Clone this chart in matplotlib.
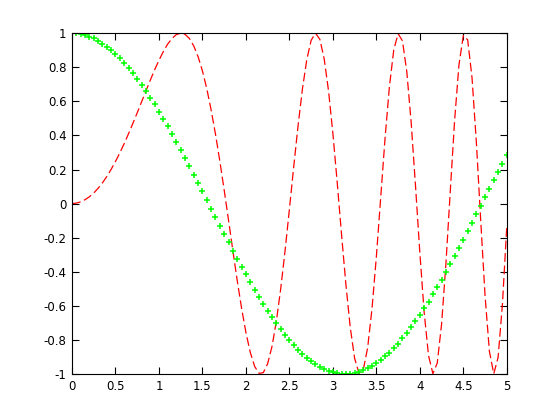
import matplotlib
matplotlib.use("Agg")
import matplotlib.pyplot as plt

plt.rcParams['axes.unicode_minus'] = False
plt.rcParams['font.family'] = 'DejaVu Sans'

# sample positions (step 0.05)
x = [0.00, 0.05, 0.10, 0.15, 0.20, 0.25, 0.30, 0.35, 0.40, 0.45,
     0.50, 0.55, 0.60, 0.65, 0.70, 0.75, 0.80, 0.85, 0.90, 0.95,
     1.00, 1.05, 1.10, 1.15, 1.20, 1.25, 1.30, 1.35, 1.40, 1.45,
     1.50, 1.55, 1.60, 1.65, 1.70, 1.75, 1.80, 1.85, 1.90, 1.95,
     2.00, 2.05, 2.10, 2.15, 2.20, 2.25, 2.30, 2.35, 2.40, 2.45,
     2.50, 2.55, 2.60, 2.65, 2.70, 2.75, 2.80, 2.85, 2.90, 2.95,
     3.00, 3.05, 3.10, 3.15, 3.20, 3.25, 3.30, 3.35, 3.40, 3.45,
     3.50, 3.55, 3.60, 3.65, 3.70, 3.75, 3.80, 3.85, 3.90, 3.95,
     4.00, 4.05, 4.10, 4.15, 4.20, 4.25, 4.30, 4.35, 4.40, 4.45,
     4.50, 4.55, 4.60, 4.65, 4.70, 4.75, 4.80, 4.85, 4.90, 4.95,
     5.00]

# red dashed curve
red_y = [0.000, 0.003, 0.010, 0.023, 0.040, 0.062, 0.090, 0.122, 0.159, 0.201,
         0.247, 0.298, 0.352, 0.410, 0.471, 0.533, 0.597, 0.661, 0.724, 0.785,
         0.841, 0.892, 0.936, 0.969, 0.992, 1.000, 0.993, 0.969, 0.925, 0.862,
         0.778, 0.674, 0.549, 0.407, 0.249, 0.079, -0.098, -0.277, -0.452, -0.614,
         -0.757, -0.873, -0.955, -0.996, -0.992, -0.939, -0.838, -0.690, -0.500, -0.277,
         -0.033, 0.218, 0.459, 0.674, 0.845, 0.958, 1.000, 0.964, 0.849, 0.661,
         0.412, 0.122, -0.184, -0.477, -0.728, -0.908, -0.995, -0.974, -0.845, -0.616,
         -0.311, 0.036, 0.384, 0.686, 0.902, 0.997, 0.955, 0.774, 0.478, 0.105,
         -0.288, -0.640, -0.892, -0.998, -0.936, -0.708, -0.352, 0.073, 0.489, 0.815,
         0.986, 0.961, 0.739, 0.360, -0.099, -0.541, -0.867, -0.999, -0.902, -0.589,
         -0.132]

# green + markers
green_y = [1.000, 0.999, 0.995, 0.989, 0.980, 0.969, 0.955, 0.939, 0.921, 0.900,
           0.878, 0.853, 0.825, 0.796, 0.765, 0.732, 0.697, 0.660, 0.622, 0.582,
           0.540, 0.498, 0.454, 0.409, 0.362, 0.315, 0.267, 0.219, 0.170, 0.121,
           0.071, 0.021, -0.029, -0.079, -0.129, -0.178, -0.227, -0.276, -0.323, -0.370,
           -0.416, -0.461, -0.505, -0.547, -0.589, -0.628, -0.666, -0.703, -0.737, -0.770,
           -0.801, -0.830, -0.857, -0.882, -0.904, -0.924, -0.942, -0.958, -0.971, -0.982,
           -0.990, -0.996, -0.999, -1.000, -0.998, -0.994, -0.987, -0.978, -0.967, -0.953,
           -0.936, -0.918, -0.897, -0.874, -0.848, -0.821, -0.791, -0.760, -0.726, -0.691,
           -0.654, -0.615, -0.575, -0.533, -0.490, -0.446, -0.401, -0.355, -0.307, -0.259,
           -0.211, -0.162, -0.112, -0.063, -0.013, 0.037, 0.087, 0.137, 0.186, 0.235,
           0.284]

xticks = [0, 0.5, 1, 1.5, 2, 2.5, 3, 3.5, 4, 4.5, 5]
xticklabels = ['0', '0.5', '1', '1.5', '2', '2.5', '3', '3.5', '4', '4.5', '5']
yticks = [-1, -0.8, -0.6, -0.4, -0.2, 0, 0.2, 0.4, 0.6, 0.8, 1]
yticklabels = ['-1', '-0.8', '-0.6', '-0.4', '-0.2', '0', '0.2', '0.4', '0.6', '0.8', '1']

fig = plt.figure(figsize=(5.6, 4.2), dpi=100)
ax = fig.add_axes([0.1286, 0.1095, 0.7764, 0.8115])

ax.plot(x, red_y, color='#ff0000', linestyle=(0, (7, 3)), linewidth=0.9)
ax.plot(x, green_y, linestyle='none', marker='+', color='#00ff00',
        markersize=5, markeredgewidth=1.1)

ax.set_xlim(0, 5)
ax.set_ylim(-1, 1)
ax.set_xticks(xticks)
ax.set_xticklabels(xticklabels)
ax.set_yticks(yticks)
ax.set_yticklabels(yticklabels)
ax.tick_params(direction='in', length=5, width=0.8, top=True, right=True,
               labelsize=8.5, pad=4)
for s in ax.spines.values():
    s.set_linewidth(0.8)

fig.savefig('out.png', dpi=100)
